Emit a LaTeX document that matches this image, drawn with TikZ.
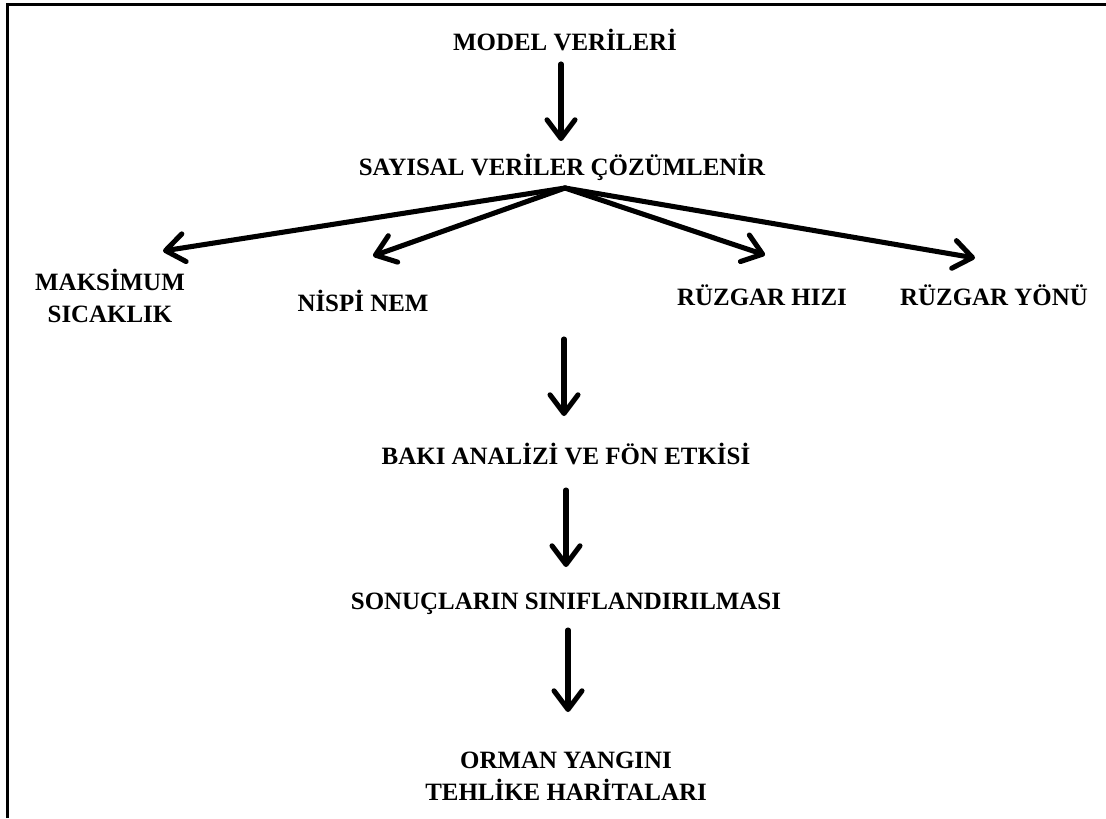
\documentclass[tikz,border=0pt]{standalone}
\usepackage{fontspec}
\setmainfont{Liberation Serif}
\usetikzlibrary{arrows.meta}
\begin{document}
\begin{tikzpicture}[x=0.75pt,y=-0.75pt,
  lbl/.style={font=\bfseries\fontsize{18.7}{24}\selectfont,anchor=base,inner sep=0pt,align=center},
  arr/.style={line width=3.8pt,line cap=round,line join=round,-{Straight Barb[length=14pt,width=21pt,line width=3.8pt,line cap=round,line join=round]}}]
\useasboundingbox (0,0) rectangle (1106,818);
\draw[line width=2.6pt] (7.5,818) -- (7.5,4.5) -- (1106,4.5);
% labels
\node[lbl] (model) at (565,50) {MODEL VERİLERİ};
\node[lbl] (sayisal) at (562,175) {SAYISAL VERİLER ÇÖZÜMLENİR};
\node[lbl] (maks) at (110,322) {MAKSİMUM\\SICAKLIK};
\node[lbl] (nem) at (363,311) {NİSPİ NEM};
\node[lbl] (hiz) at (762,305) {RÜZGAR HIZI};
\node[lbl] (yon) at (994,305) {RÜZGAR YÖNÜ};
\node[lbl] (baki) at (566,464) {BAKI ANALİZİ VE FÖN ETKİSİ};
\node[lbl] (sonuc) at (566,609) {SONUÇLARIN SINIFLANDIRILMASI};
\node[lbl] (orman) at (566,800) {ORMAN YANGINI\\TEHLİKE HARİTALARI};
% connector points
\coordinate (fan) at (565,188);
\coordinate (a1s) at (561,64);  \coordinate (a1e) at (561,141);
\coordinate (t1) at (163,251);
\coordinate (t2) at (373,256);
\coordinate (t3) at (765,255);
\coordinate (t4) at (975,258);
\coordinate (a2s) at (564,339); \coordinate (a2e) at (564,416);
\coordinate (a3s) at (566,490); \coordinate (a3e) at (566,567);
\coordinate (a4s) at (568,630); \coordinate (a4e) at (568,712);
\draw[arr] (a1s) -- (a1e);
\draw[arr] (fan) -- (t1);
\draw[arr] (fan) -- (t2);
\draw[arr] (fan) -- (t3);
\draw[arr] (fan) -- (t4);
\draw[arr] (a2s) -- (a2e);
\draw[arr] (a3s) -- (a3e);
\draw[arr] (a4s) -- (a4e);
\end{tikzpicture}
\end{document}
